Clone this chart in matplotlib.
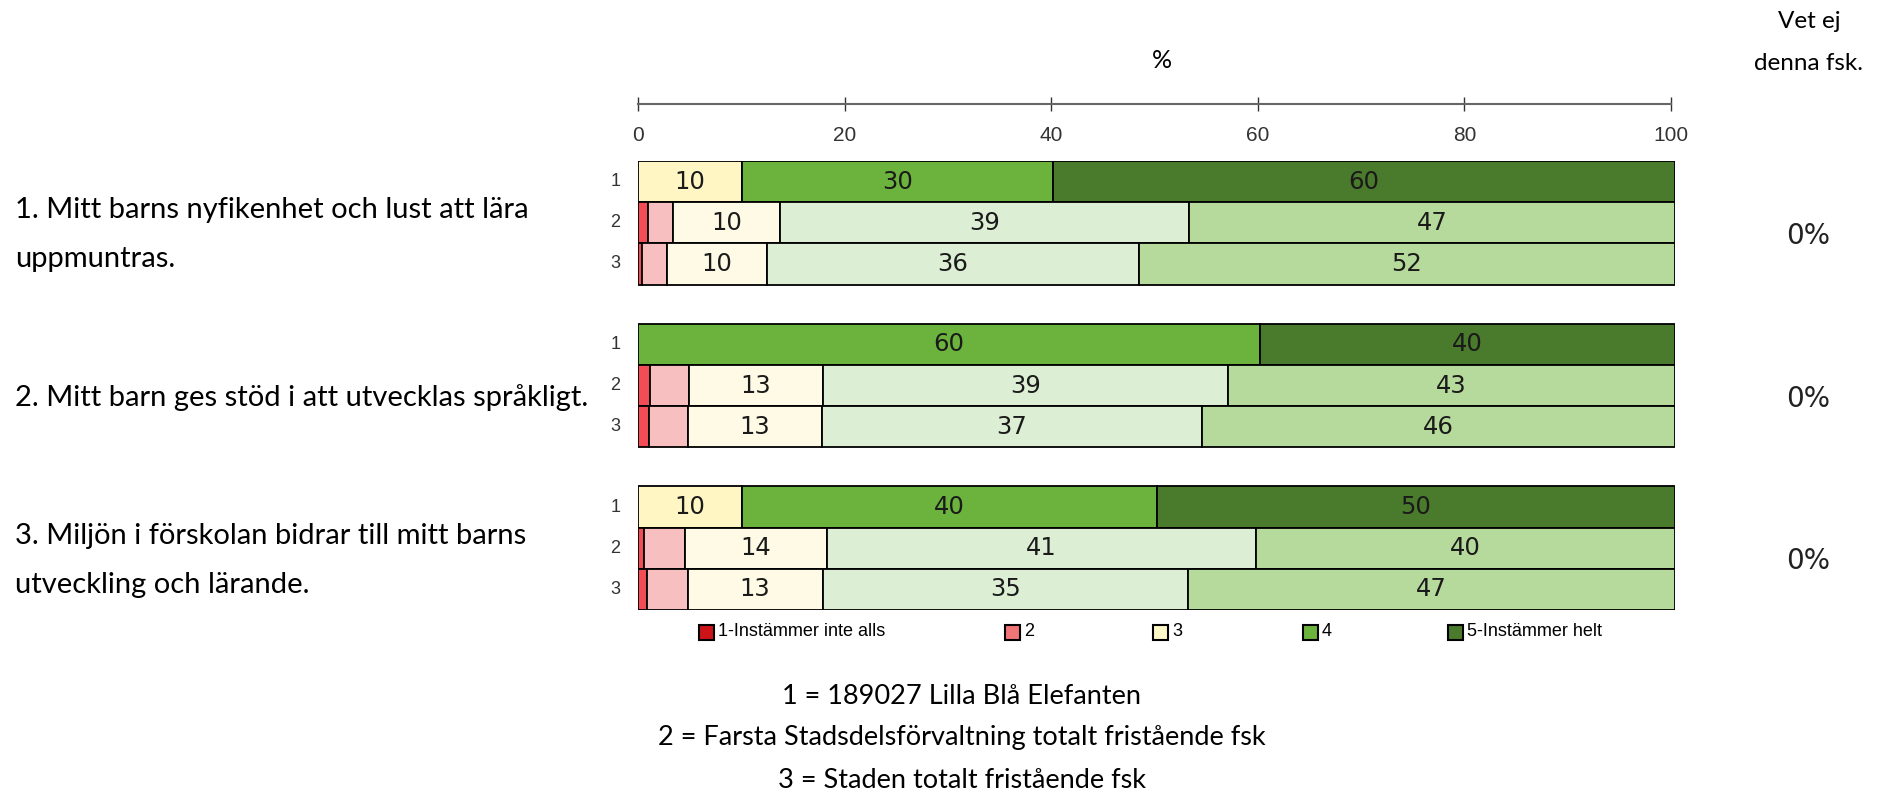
import matplotlib
matplotlib.use('Agg')
import matplotlib.pyplot as plt
from matplotlib.patches import Rectangle
import matplotlib.transforms as mtransforms

W, H = 1883, 793

# ---------------- data ----------------
questions = ["1. Mitt barns nyfikenhet och lust att lära\nuppmuntras.",
             "2. Mitt barn ges stöd i att utvecklas språkligt.",
             "3. Miljön i förskolan bidrar till mitt barns\nutveckling och lärande."]
row_labels = ["1", "2", "3"]
categories = ["1-Instämmer inte alls", "2", "3", "4", "5-Instämmer helt"]
q1_values = [[0, 0, 10, 30, 60], [1.0, 2.4, 10.3, 39.4, 46.9], [0.4, 2.4, 9.6, 35.9, 51.7]]
q2_values = [[0, 0, 0, 60, 40], [1.2, 3.7, 12.9, 39.1, 43.1], [1.1, 3.7, 12.9, 36.7, 45.6]]
q3_values = [[0, 0, 10, 40, 50], [0.6, 3.9, 13.7, 41.4, 40.4], [0.9, 3.9, 13.0, 35.2, 47.0]]
vet_ej = ["0%", "0%", "0%"]
x_ticks = [0, 20, 40, 60, 80, 100]
footnotes = ["1 = 189027 Lilla Blå Elefanten",
             "2 = Farsta Stadsdelsförvaltning totalt fristående fsk",
             "3 = Staden totalt fristående fsk"]

unit_colors = ['#cc1418', '#f07577', '#fff6c4', '#6cb33e', '#4a7a2b']
comp_colors = ['#f24d55', '#f8bfc1', '#fefae5', '#dcefd4', '#b5da9b']
legend_colors = ['#cc1418', '#f07577', '#fff9c8', '#6cb33e', '#4a7a2b']

all_values = [q1_values, q2_values, q3_values]

TEXT_FONT = ['Lato', 'DejaVu Sans']
NARROW = ['Liberation Sans Narrow', 'Liberation Sans', 'DejaVu Sans']

fig = plt.figure(figsize=(W / 100, H / 100), dpi=100)

def fx(px):
    return px / W

def fy(py):
    return 1 - py / H

# main bar axes
gap = 0.95
n_rows = 3
total = 3 * n_rows + 2 * gap
ax = fig.add_axes([fx(638), fy(610), fx(1675) - fx(638), fy(161) - fy(610)])
ax.set_xlim(0, 100)
ax.set_ylim(total, 0)
ax.axis('off')

group_centers = []
for g, qv in enumerate(all_values):
    base = g * (n_rows + gap)
    group_centers.append(base + n_rows / 2)
    for r, row in enumerate(qv):
        yc = base + r + 0.5
        colors = unit_colors if r == 0 else comp_colors
        left = 0
        for c, v in enumerate(row):
            if v > 0:
                ax.barh(yc, v, left=left, height=1.0, color=colors[c],
                        edgecolor='black', linewidth=1.3)
                if v >= 5:
                    ax.text(left + v / 2, yc, f"{round(v)}", ha='center', va='center',
                            fontsize=17.5, family=['DejaVu Sans'], color='#1a1a1a')
            left += v
        ax.text(-0.022, yc, row_labels[r], transform=ax.get_yaxis_transform(),
                ha='center', va='center', fontsize=13, family=['Liberation Sans', 'DejaVu Sans'],
                color='#333333')

# blended transform: x in figure fraction, y in data of ax
blend = mtransforms.blended_transform_factory(fig.transFigure, ax.transData)
for g, q in enumerate(questions):
    lines = q.split('\n')
    n = len(lines)
    for i, line in enumerate(lines):
        dy = 12 + (i - (n - 1) / 2) * 49
        tr = mtransforms.offset_copy(blend, fig=fig, x=0, y=-dy * 72 / 100, units='points')
        fig.text(fx(15), group_centers[g], line, transform=tr, ha='left', va='center',
                 fontsize=21, family=TEXT_FONT, color='black')
    tr = mtransforms.offset_copy(blend, fig=fig, x=0, y=-13 * 72 / 100, units='points')
    fig.text(fx(1808), group_centers[g], vet_ej[g], transform=tr, ha='center', va='center',
             fontsize=20, family=['DejaVu Sans'], color='#222222')

# top scale axis
ax_t = fig.add_axes([fx(638), fy(104), fx(1671) - fx(638), 0.0001])
ax_t.set_xlim(0, 100)
ax_t.set_xticks(x_ticks)
ax_t.set_xticklabels([str(t) for t in x_ticks], fontsize=15, family=NARROW, color='#333333')
ax_t.set_yticks([])
for s in ['top', 'left', 'right']:
    ax_t.spines[s].set_visible(False)
ax_t.spines['bottom'].set_color('#666666')
ax_t.spines['bottom'].set_linewidth(1.5)
ax_t.tick_params(axis='x', direction='inout', length=10, width=1.0, color='#333333', pad=11)
ax_t.patch.set_visible(False)

# headers
fig.text(fx(1162), fy(60), "%", ha='center', va='center', fontsize=18, family=TEXT_FONT)
fig.text(fx(1809), fy(21), "Vet ej", ha='center', va='center', fontsize=17.5, family=TEXT_FONT)
fig.text(fx(1809), fy(63), "denna fsk.", ha='center', va='center', fontsize=17.5, family=TEXT_FONT)

# legend
legend_lefts = [699, 1005, 1153, 1303, 1448]
for lx, col, lab in zip(legend_lefts, legend_colors, categories):
    fig.add_artist(Rectangle((fx(lx), fy(640)), 15 / W, 15 / H, transform=fig.transFigure,
                             facecolor=col, edgecolor='black', linewidth=1.5))
    fig.text(fx(lx + 19), fy(632), lab, ha='left', va='center', fontsize=13, family=NARROW)

# footnotes
for i, f in enumerate(footnotes):
    fig.text(fx(962), fy(696 + i * 42), f, ha='center', va='center', fontsize=19.5, family=TEXT_FONT)

fig.savefig('out.png', dpi=100)
